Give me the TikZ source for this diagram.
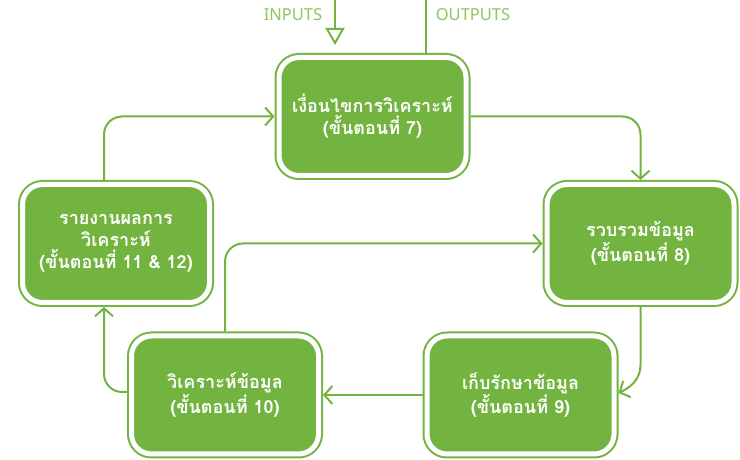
\documentclass[tikz,border=0pt]{standalone}
\usepackage{fontspec}
\setmainfont{Noto Sans}
\newfontfamily\thaifont[Script=Thai]{Loma}
\usetikzlibrary{arrows.meta,calc}
\definecolor{stagegreen}{HTML}{72B43F}
\definecolor{labelgreen}{HTML}{8CC55A}
\tikzset{>={Straight Barb[length=8pt,width=18pt]}}
\tikzstyle{stage}=[rectangle,rounded corners=20pt,draw=stagegreen,fill=stagegreen,line width=2pt,double=white,double distance=5pt,minimum width=187pt,minimum height=118pt,outer sep=4.5pt,text=white,align=center,font=\thaifont\bfseries\fontsize{18}{22}\selectfont]
\tikzstyle{flow}=[draw=stagegreen,line width=2pt,rounded corners=18pt]
\tikzstyle{iolabel}=[text=labelgreen,font=\fontsize{16.5}{19}\selectfont]

\begin{document}
\begin{tikzpicture}[x=1pt,y=1pt]
	\useasboundingbox (0,0) rectangle (740,460);
	\node[stage] (step7) at (372.5,343.5) {เงื่อนไขการวิเคราะห์\\(ขั้นตอนที่ 7)};
	\node[stage] (step8) at (640.5,216.5) {รวบรวมข้อมูล\\(ขั้นตอนที่ 8)};
	\node[stage] (step9) at (520.5,65) {เก็บรักษาข้อมูล\\(ขั้นตอนที่ 9)};
	\node[stage] (step10) at (225,65) {วิเคราะห์ข้อมูล\\(ขั้นตอนที่ 10)};
	\node[stage] (step11) at (116,216.5) {รายงานผลการ\\วิเคราะห์\\(ขั้นตอนที่ 11 \& 12)};
	\node[iolabel] (inputs) at (293,445) {INPUTS};
	\node[iolabel] (outputs) at (473,445) {OUTPUTS};
	\coordinate (intop) at (335,460);
	\coordinate (intip) at (335,415);
	\coordinate (outtop) at (426,460);
	
	\draw[flow,-{Triangle[open,length=17pt,width=19pt]}] (intop) -- (intip);
	\draw[flow] (step7.north -| outtop) -- (outtop);
	\draw[flow,->] (step7.east) -| (step8.north);
	\draw[flow,sharp corners,->] (step8.south) -- (640.5,95) to[out=-90,in=25] ([yshift=2pt]step9.east);
	\draw[flow,->] (step9.west) -- (step10.east);
	\draw[flow,->] (step10.north) |- (step8.west);
	\draw[flow,->] ([yshift=3pt]step10.west) -| ([xshift=-12pt]step11.south);
	\draw[flow,->] ([xshift=-12pt]step11.north) |- (step7.west);
\end{tikzpicture}
\end{document}
